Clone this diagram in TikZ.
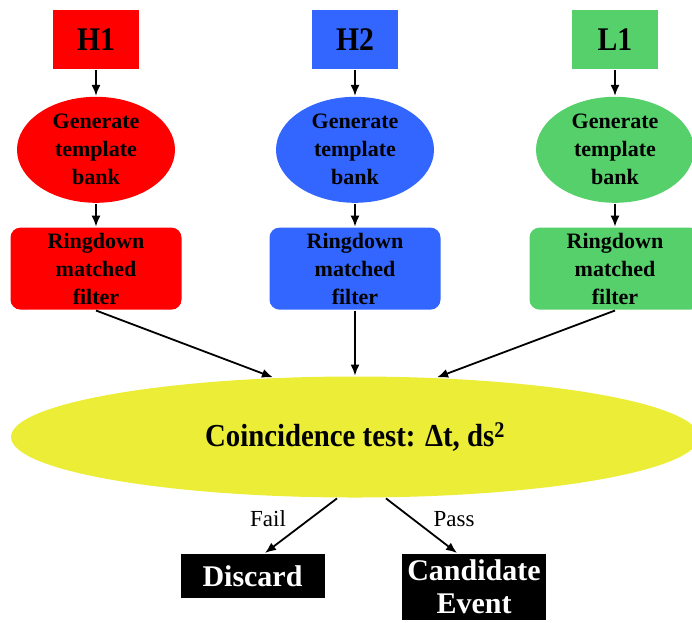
\documentclass[tikz,border=0pt]{standalone}
\usepackage{fontspec}
\setmainfont{Liberation Serif}
\usepackage{tikz}
\usetikzlibrary{arrows.meta,shapes,positioning}
\definecolor{detred}{RGB}{255,0,0}
\definecolor{detblue}{RGB}{51,102,255}
\definecolor{detgreen}{RGB}{85,208,106}
\definecolor{coincyellow}{RGB}{235,237,55}

\begin{document}
\begin{tikzpicture}[x=1pt,y=-1pt,line width=1.8pt,>={Latex[length=11pt,width=9pt]},
	ifo/.style={rectangle,minimum width=86pt,minimum height=59pt,font=\fontsize{33}{33}\selectfont\bfseries\addfontfeature{FakeStretch=0.9}},
	bank/.style={ellipse,inner sep=0pt,minimum width=158pt,minimum height=106pt,align=center,font=\fontsize{22}{28}\selectfont\bfseries},
	filt/.style={rectangle,rounded corners=10pt,inner sep=2pt,minimum width=171pt,minimum height=82pt,align=center,font=\fontsize{22}{28}\selectfont\bfseries},
	outbox/.style={rectangle,fill=black,text=white,minimum width=144pt,align=center,font=\fontsize{30}{33}\selectfont\bfseries},
	lbl/.style={font=\fontsize{23}{23}\selectfont}]
		\useasboundingbox (0,0) rectangle (692,622);
		% detectors
		\node[ifo,fill=detred] (H1) at (96,39.5) {H1};
		\node[ifo,fill=detblue] (H2) at (355,39.5) {H2};
		\node[ifo,fill=detgreen] (L1) at (615,39.5) {L1};
		% template banks
		\node[bank,fill=detred] (bank1) [below=26pt of H1] {Generate\\template\\bank};
		\node[bank,fill=detblue] (bank2) [below=26pt of H2] {Generate\\template\\bank};
		\node[bank,fill=detgreen] (bank3) [below=26pt of L1] {Generate\\template\\bank};
		% filters
		\node[filt,fill=detred] (filt1) [below=23pt of bank1] {Ringdown\\matched\\filter};
		\node[filt,fill=detblue] (filt2) [below=23pt of bank2] {Ringdown\\matched\\filter};
		\node[filt,fill=detgreen] (filt3) [below=23pt of bank3] {Ringdown\\matched\\filter};
		% coincidence
		\node[ellipse,fill=coincyellow,minimum width=688pt,minimum height=121pt,font=\fontsize{32}{32}\selectfont\bfseries\addfontfeature{FakeStretch=0.9}] (coinc) at (355,437) {Coincidence test: Δt, ds\textsuperscript{2}};
		\node[outbox,minimum height=44pt,anchor=north] (disc) at (252.5,553) {Discard};
		\node[outbox,inner xsep=4pt,inner ysep=6pt,anchor=north] (cand) at (474,553) {Candidate\\Event};
		\node[lbl] (fail) at (268,519) {Fail};
		\node[lbl] (pass) at (454,519) {Pass};
		\path[->]
		(H1) edge (bank1)
		(H2) edge (bank2)
		(L1) edge (bank3)
		(bank1) edge (filt1)
		(bank2) edge (filt2)
		(bank3) edge (filt3)
		(filt1.south) edge (coinc.144)
		(filt2) edge (coinc)
		(filt3.south) edge (coinc.36)
		([xshift=-18pt]coinc.south) edge ([xshift=12.5pt]disc.north)
		([xshift=31pt]coinc.south) edge ([xshift=-17pt]cand.north)
		;
	\end{tikzpicture}
\end{document}
